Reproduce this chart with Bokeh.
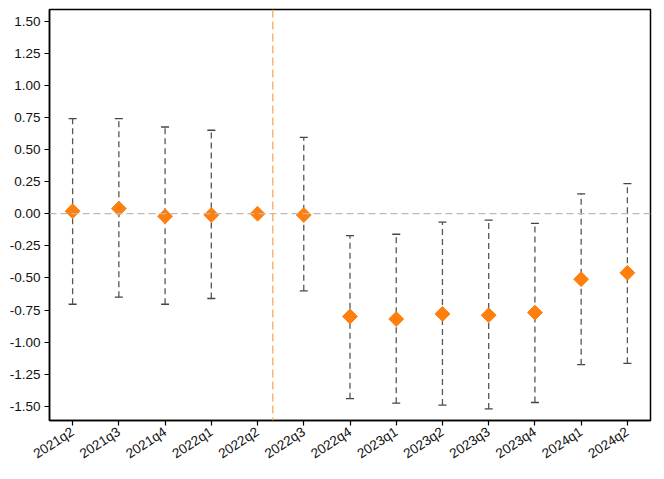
import math
from bokeh.plotting import figure
from bokeh.models import (ColumnDataSource, Range1d, FixedTicker, NumeralTickFormatter,
                          Span, Whisker, TeeHead)
from bokeh.embed import file_html
from bokeh.resources import INLINE

quarters = ["2021q2", "2021q3", "2021q4", "2022q1", "2022q2", "2022q3", "2022q4",
            "2023q1", "2023q2", "2023q3", "2023q4", "2024q1", "2024q2"]
estimates = [0.02, 0.04, -0.02, -0.01, 0.00, -0.01, -0.80, -0.82, -0.78, -0.79, -0.77, -0.51, -0.46]
ci_upper = [0.74, 0.74, 0.675, 0.65, None, 0.595, -0.17, -0.16, -0.065, -0.05, -0.075, 0.155, 0.235]
ci_lower = [-0.705, -0.65, -0.705, -0.66, None, -0.60, -1.44, -1.475, -1.49, -1.52, -1.47, -1.175, -1.165]
y_ticks = [-1.5, -1.25, -1.0, -0.75, -0.5, -0.25, 0.0, 0.25, 0.5, 0.75, 1.0, 1.25, 1.5]
event_position = 4.33  # between 2022q2 and 2022q3

xs = list(range(len(quarters)))
pts = ColumnDataSource(dict(x=xs, y=estimates, q=quarters))
ci_idx = [i for i in xs if ci_upper[i] is not None]
ci = ColumnDataSource(dict(x=ci_idx,
                           upper=[ci_upper[i] for i in ci_idx],
                           lower=[ci_lower[i] for i in ci_idx]))

p = figure(width=656, height=470, output_backend="svg", toolbar_location=None,
           x_range=Range1d(-0.5, len(quarters) - 0.5), y_range=Range1d(-1.61, 1.59),
           min_border_left=49, min_border_right=6, min_border_top=9, min_border_bottom=49)
p.xgrid.visible = False
p.ygrid.visible = False
p.outline_line_color = "black"
p.outline_line_width = 1.5
p.background_fill_color = "white"
p.border_fill_color = "white"

# zero line
p.add_layout(Span(location=0, dimension="width", line_color="#BBBBBB",
                  line_width=1.3, line_dash="7 4"))
# event line
p.add_layout(Span(location=event_position, dimension="height", line_color="#F7A85C",
                  line_width=1.3, line_dash="8 4"))

# confidence intervals
p.segment(x0="x", y0="lower", x1="x", y1="upper", source=ci,
          line_color="#555555", line_width=1.3, line_dash="6 4")
cap = dict(size=8, line_color="#444444", line_width=1.3)
p.add_layout(Whisker(base="x", upper="upper", lower="lower", source=ci,
                     line_alpha=0, upper_head=TeeHead(**cap), lower_head=TeeHead(**cap)))

# point estimates (diamonds = squares rotated 45 degrees)
p.scatter(x="x", y="y", source=pts, marker="square", size=10.5, angle=math.pi / 4,
          fill_color="#FF7F0E", line_color="#FF7F0E")

for ax in (p.xaxis[0], p.yaxis[0]):
    ax.axis_line_color = "black"
    ax.axis_line_width = 1.5
    ax.major_tick_line_color = "black"
    ax.major_tick_line_width = 1.2
    ax.major_tick_out = 5
    ax.major_tick_in = 0
    ax.minor_tick_line_color = None
    ax.major_label_text_font = "Liberation Sans"
    ax.major_label_text_font_size = "13.5px"
    ax.major_label_text_color = "#111111"

p.xaxis.ticker = FixedTicker(ticks=xs)
p.xaxis.major_label_overrides = {i: q for i, q in zip(xs, quarters)}
p.xaxis.major_label_orientation = math.radians(33)
p.xaxis.major_label_standoff = 5
p.yaxis.ticker = FixedTicker(ticks=y_ticks)
p.yaxis.formatter = NumeralTickFormatter(format="0.00")
p.yaxis.major_label_standoff = 4

open("out.html", "w").write(file_html(p, INLINE))
